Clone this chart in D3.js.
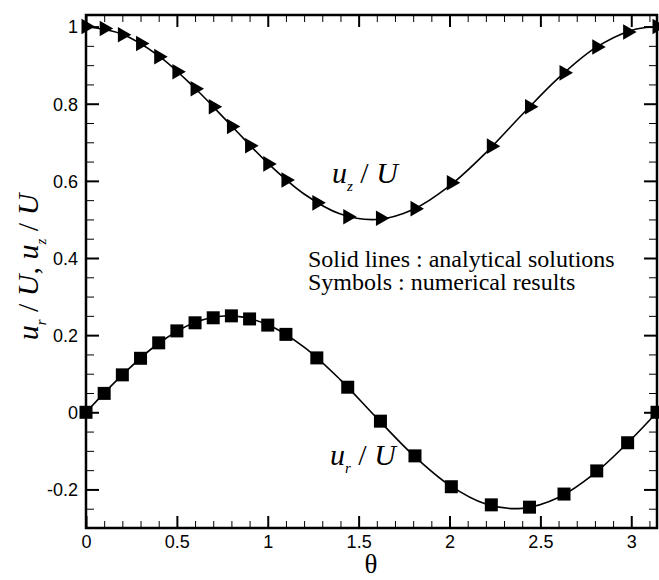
<!DOCTYPE html>
<html>
<head>
<meta charset="utf-8">
<script src="https://cdn.jsdelivr.net/npm/d3@7"></script>
<style>
  html, body { margin: 0; padding: 0; background: #fff; }
  svg { display: block; }
</style>
</head>
<body>
<svg id="chart" width="659" height="580"></svg>
<script>
// ---- data ----
const lineTheta = [0, 0.2, 0.4, 0.6, 0.8, 1.0, 1.2, 1.4, 1.6, 1.8, 2.0, 2.2, 2.4, 2.6, 2.8, 3.0, 3.1416];
const uzLine = [1.000, 0.980, 0.924, 0.840, 0.743, 0.646, 0.566, 0.514, 0.500, 0.526, 0.587, 0.673, 0.772, 0.867, 0.944, 0.990, 1.000];
const urLine = [0.000, 0.097, 0.179, 0.233, 0.250, 0.227, 0.169, 0.084, -0.015, -0.111, -0.189, -0.238, -0.249, -0.221, -0.158, -0.070, 0.000];

const markerTheta = [0, 0.1, 0.2, 0.3, 0.4, 0.5, 0.6, 0.7, 0.8, 0.9, 1.0, 1.1, 1.27, 1.44, 1.62, 1.81, 2.01, 2.23, 2.44, 2.63, 2.81, 2.98, 3.1416];
const uzMarkers = [1.000, 0.995, 0.979, 0.956, 0.922, 0.883, 0.839, 0.792, 0.741, 0.691, 0.644, 0.602, 0.543, 0.507, 0.503, 0.528, 0.595, 0.690, 0.792, 0.880, 0.947, 0.986, 1.000];
const urMarkers = [0.000, 0.049, 0.097, 0.140, 0.180, 0.211, 0.232, 0.245, 0.250, 0.242, 0.226, 0.202, 0.141, 0.065, -0.023, -0.113, -0.193, -0.240, -0.246, -0.212, -0.152, -0.079, 0.000];

const xTicks = [0, 0.5, 1, 1.5, 2, 2.5, 3];
const xTickLabels = ["0", "0.5", "1", "1.5", "2", "2.5", "3"];
const yTicks = [-0.2, 0, 0.2, 0.4, 0.6, 0.8, 1];
const yTickLabels = ["-0.2", "0", "0.2", "0.4", "0.6", "0.8", "1"];
const xMinor = [0.1,0.2,0.3,0.4,0.6,0.7,0.8,0.9,1.1,1.2,1.3,1.4,1.6,1.7,1.8,1.9,2.1,2.2,2.3,2.4,2.6,2.7,2.8,2.9,3.1];
const yMinor = [-0.25,-0.15,-0.1,-0.05,0.05,0.1,0.15,0.25,0.3,0.35,0.45,0.5,0.55,0.65,0.7,0.75,0.85,0.9,0.95];

// ---- layout ----
const L = 86, R = 657, T = 15, B = 528;
const svg = d3.select("#chart");
const x = d3.scaleLinear().domain([0, 3.1416]).range([L, R]);
const y = d3.scaleLinear().domain([-0.3, 1.03]).range([B, T]);

const tickFont = "'Liberation Sans', Arial, sans-serif";
const serif = "'Liberation Serif', 'Times New Roman', serif";

function addAxis(gen, tx, ty, vals, size, width, labels) {
  const g = svg.append("g").attr("transform", `translate(${tx},${ty})`)
    .call(gen.tickValues(vals).tickSizeInner(size).tickSizeOuter(0)
      .tickFormat((d, i) => labels ? labels[i] : ""));
  g.select(".domain").remove();
  g.selectAll(".tick line").attr("stroke", "#000").attr("stroke-width", width);
  g.selectAll(".tick text").attr("font-family", tickFont).attr("font-size", 18).attr("fill", "#000");
  return g;
}
const gb = addAxis(d3.axisTop(x), 0, B, xTicks, 12, 2, xTickLabels);
gb.selectAll(".tick text").attr("y", 20).attr("dy", 0);
addAxis(d3.axisTop(x), 0, B, xMinor, 7, 1, null);
addAxis(d3.axisBottom(x), 0, T, xTicks, 12, 2, null);
addAxis(d3.axisBottom(x), 0, T, xMinor, 7, 1, null);
const gl = addAxis(d3.axisRight(y), L, 0, yTicks, 13, 2, yTickLabels);
gl.selectAll(".tick text").attr("x", -8).attr("text-anchor", "end").attr("dy", "0.35em");
addAxis(d3.axisRight(y), L, 0, yMinor, 8, 1, null);
addAxis(d3.axisLeft(y), R, 0, yTicks, 13, 2, null);
addAxis(d3.axisLeft(y), R, 0, yMinor, 8, 1, null);

svg.append("rect").attr("x", L).attr("y", T).attr("width", R - L).attr("height", B - T)
  .attr("fill", "none").attr("stroke", "#000").attr("stroke-width", 2.5);

// curves
const line = d3.line().x(d => x(d[0])).y(d => y(d[1])).curve(d3.curveCatmullRom.alpha(0.5));
svg.append("path").datum(lineTheta.map((t, i) => [t, uzLine[i]]))
  .attr("d", line).attr("fill", "none").attr("stroke", "#000").attr("stroke-width", 1.6);
svg.append("path").datum(lineTheta.map((t, i) => [t, urLine[i]]))
  .attr("d", line).attr("fill", "none").attr("stroke", "#000").attr("stroke-width", 1.6);

// markers
const tri = d3.symbol().type(d3.symbolTriangle).size(105);
svg.append("g").selectAll("path").data(markerTheta.map((t, i) => [t, uzMarkers[i]]))
  .join("path").attr("d", tri)
  .attr("transform", d => `translate(${x(d[0])},${y(d[1])}) rotate(90)`)
  .attr("fill", "#000");
const sq = 13;
svg.append("g").selectAll("rect").data(markerTheta.map((t, i) => [t, urMarkers[i]]))
  .join("rect")
  .attr("x", d => x(d[0]) - sq / 2).attr("y", d => y(d[1]) - sq / 2)
  .attr("width", sq).attr("height", sq).attr("fill", "#000");

// annotations
function velPart(sel, sub, fs) {
  const drop = fs * 0.25;
  sel.append("tspan").attr("font-style", "italic").text("u");
  sel.append("tspan").attr("font-style", "italic").attr("font-size", fs * 0.5).attr("dy", drop).text(sub);
  sel.append("tspan").attr("dy", -drop).text(" / ");
  sel.append("tspan").attr("font-style", "italic").text("U");
}
const fsA = 30;
const tz = svg.append("text").attr("x", 332).attr("y", 183).attr("font-family", serif).attr("font-size", fsA);
velPart(tz, "z", fsA);
const tr = svg.append("text").attr("x", 330).attr("y", 465).attr("font-family", serif).attr("font-size", fsA);
velPart(tr, "r", fsA);

svg.append("text").attr("x", 308).attr("y", 267).attr("font-family", serif).attr("font-size", 24)
  .text("Solid lines : analytical solutions");
svg.append("text").attr("x", 308).attr("y", 290).attr("font-family", serif).attr("font-size", 24)
  .text("Symbols : numerical results");

// axis titles
svg.append("text").attr("x", 371).attr("y", 573).attr("text-anchor", "middle")
  .attr("font-family", serif).attr("font-size", 27).text("θ");

const fsY = 30;
const yl = svg.append("text").attr("transform", "translate(38,267) rotate(-90)")
  .attr("text-anchor", "middle").attr("font-family", serif).attr("font-size", fsY);
velPart(yl, "r", fsY);
yl.append("tspan").text(", ");
velPart(yl, "z", fsY);
</script>
</body>
</html>
